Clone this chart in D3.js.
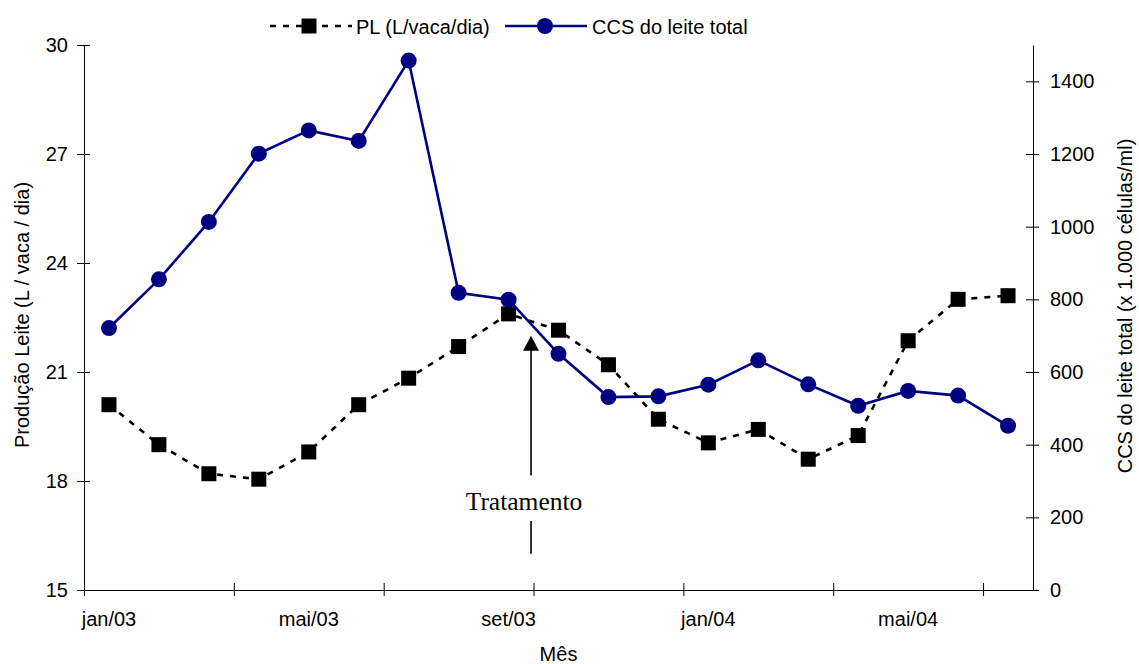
<!DOCTYPE html>
<html>
<head>
<meta charset="utf-8">
<script src="https://cdn.jsdelivr.net/npm/d3@7"></script>
<style>
  html, body { margin: 0; padding: 0; background: #fff; }
  svg { display: block; }
  text { font-family: Arial, "Liberation Sans", sans-serif; fill: #000; }
</style>
</head>
<body>
<svg id="chart" width="1139" height="664"></svg>
<script>
// ---- Data ----
const months = ["jan/03","fev/03","mar/03","abr/03","mai/03","jun/03","jul/03","ago/03","set/03","out/03","nov/03","dez/03",
                "jan/04","fev/04","mar/04","abr/04","mai/04","jun/04","jul/04"];
const plValues  = [20.1, 19.0, 18.2, 18.05, 18.8, 20.1, 20.83, 21.7, 22.6, 22.15, 21.2, 19.7, 19.05, 19.42, 18.6, 19.25, 21.86, 23.0, 23.1];
const ccsValues = [721, 855, 1013, 1201, 1265, 1236, 1457, 818, 799, 650, 531, 533, 565, 632, 566, 507, 548, 535, 452];
const monthLabels = ["jan/03","mai/03","set/03","jan/04","mai/04"];
const leftTicks  = [15, 18, 21, 24, 27, 30];
const rightTicks = [0, 200, 400, 600, 800, 1000, 1200, 1400];
const seriesNames = ["PL (L/vaca/dia)", "CCS do leite total"];
const axisTitles = { left: "Produção Leite (L / vaca / dia)", right: "CCS do leite total (x 1.000 células/ml)", bottom: "Mês" };
const annotation = { label: "Tratamento", pos: 8.95, tip: 22, lineEnd: 18.15, textAt: 17.2, low1: 16.9, low2: 16.0 };

// ---- Layout ----
const svg = d3.select("#chart");
const L = 84, R = 1033, T = 45, B = 590;
const navy = "#000080";

const xBand = d3.scaleBand().domain(months).range([L, R]).paddingInner(0).paddingOuter(0);
const xIdx = d3.scaleLinear().domain([0, months.length]).range([L, R]);
const cx = m => xBand(m) + xBand.bandwidth() / 2;
const yL = d3.scaleLinear().domain([15, 30]).range([B, T]);
const yR = d3.scaleLinear().domain([0, 1500]).range([B, T]);

// ---- Axes ----
const axL = svg.append("g").attr("transform", `translate(${L},0)`)
  .call(d3.axisLeft(yL).tickValues(leftTicks).tickFormat(d3.format("d")).tickSize(7).tickPadding(9).tickSizeOuter(0));
axL.selectAll(".tick line").attr("x1", 6).attr("x2", -7);
const axR = svg.append("g").attr("transform", `translate(${R},0)`)
  .call(d3.axisRight(yR).tickValues(rightTicks).tickFormat(d3.format("d")).tickSize(6).tickPadding(11).tickSizeOuter(0));
axR.selectAll(".tick line").attr("x1", -7).attr("x2", 6);
const axB = svg.append("g").attr("transform", `translate(0,${B})`)
  .call(d3.axisBottom(xIdx).tickValues(d3.range(0, months.length, 3)).tickSize(6).tickFormat("").tickSizeOuter(0));
axB.selectAll(".tick line").attr("y1", -7).attr("y2", 6);
const axBL = svg.append("g").attr("transform", `translate(0,${B})`)
  .call(d3.axisBottom(xBand).tickValues(monthLabels).tickSize(0).tickPadding(22));
axBL.select(".domain").remove();

svg.selectAll(".domain, .tick line").attr("stroke", "#000").attr("stroke-width", 1);
svg.selectAll(".tick text").style("font-size", "20px").style("font-family", "Arial, 'Liberation Sans', sans-serif").attr("fill", "#000");

// ---- PL series (dashed black with squares) ----
const lineL = d3.line().x((d, i) => cx(months[i])).y(d => yL(d));
svg.append("path").datum(plValues).attr("d", lineL)
  .attr("fill", "none").attr("stroke", "#000").attr("stroke-width", 2.6).attr("stroke-dasharray", "6,7");
svg.append("g").selectAll("rect").data(plValues).join("rect")
  .attr("x", (d, i) => cx(months[i]) - 7.5).attr("y", d => yL(d) - 7.5)
  .attr("width", 15).attr("height", 15).attr("fill", "#000");

// ---- CCS series (solid navy with circles) ----
const lineR = d3.line().x((d, i) => cx(months[i])).y(d => yR(d));
svg.append("path").datum(ccsValues).attr("d", lineR)
  .attr("fill", "none").attr("stroke", navy).attr("stroke-width", 2.6);
svg.append("g").selectAll("circle").data(ccsValues).join("circle")
  .attr("cx", (d, i) => cx(months[i])).attr("cy", d => yR(d)).attr("r", 8).attr("fill", navy);

// ---- Annotation arrow ----
const ax = xIdx(annotation.pos);
const tipY = yL(annotation.tip);
svg.append("path")
  .attr("d", `M${ax},${tipY} L${ax - 8},${tipY + 15} L${ax + 8},${tipY + 15} Z`).attr("fill", "#000");
svg.append("line").attr("x1", ax).attr("x2", ax).attr("y1", tipY + 12).attr("y2", yL(annotation.lineEnd))
  .attr("stroke", "#000").attr("stroke-width", 1.6);
svg.append("line").attr("x1", ax).attr("x2", ax).attr("y1", yL(annotation.low1)).attr("y2", yL(annotation.low2))
  .attr("stroke", "#000").attr("stroke-width", 1.6);
svg.append("text").attr("x", ax - 7).attr("y", yL(annotation.textAt)).attr("text-anchor", "middle")
  .style("font-family", "'Times New Roman', 'Liberation Serif', serif").style("font-size", "25.5px")
  .text(annotation.label);

// ---- Axis titles ----
svg.append("text").attr("transform", `translate(29,315) rotate(-90)`).attr("text-anchor", "middle")
  .style("font-size", "20px").text(axisTitles.left);
svg.append("text").attr("transform", `translate(1132,306) rotate(-90)`).attr("text-anchor", "middle")
  .style("font-size", "20px").text(axisTitles.right);
svg.append("text").attr("x", (L + R) / 2).attr("y", 661).attr("text-anchor", "middle")
  .style("font-size", "20px").text(axisTitles.bottom);

// ---- Legend ----
const lg = svg.append("g");
lg.append("line").attr("x1", 270).attr("x2", 352).attr("y1", 26).attr("y2", 26)
  .attr("stroke", "#000").attr("stroke-width", 2.6).attr("stroke-dasharray", "6,7");
lg.append("rect").attr("x", 309 - 7.5).attr("y", 26 - 7.5).attr("width", 15).attr("height", 15).attr("fill", "#000");
lg.append("text").attr("x", 356).attr("y", 34).style("font-size", "20px").text(seriesNames[0]);
lg.append("line").attr("x1", 505).attr("x2", 587).attr("y1", 26).attr("y2", 26)
  .attr("stroke", navy).attr("stroke-width", 2.6);
lg.append("circle").attr("cx", 545).attr("cy", 26).attr("r", 8).attr("fill", navy);
lg.append("text").attr("x", 592).attr("y", 34).style("font-size", "20px").text(seriesNames[1]);
</script>
</body>
</html>
